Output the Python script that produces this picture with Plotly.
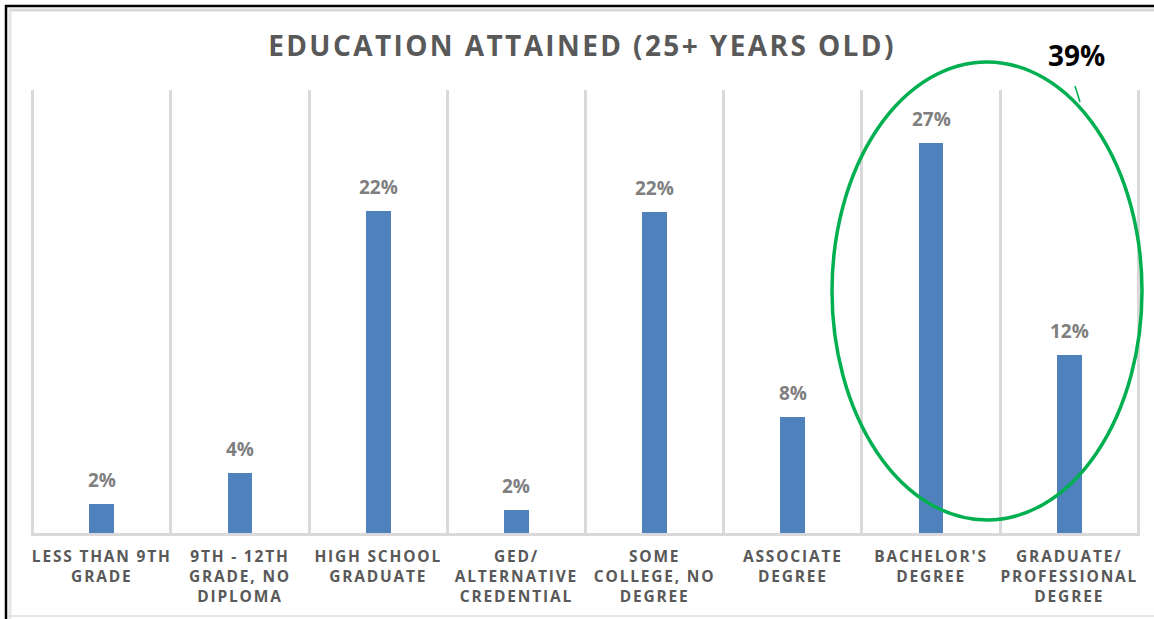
import plotly.graph_objects as go

categories = [
    "LESS THAN 9TH<br>GRADE",
    "9TH - 12TH<br>GRADE, NO<br>DIPLOMA",
    "HIGH SCHOOL<br>GRADUATE",
    "GED/<br>ALTERNATIVE<br>CREDENTIAL",
    "SOME<br>COLLEGE, NO<br>DEGREE",
    "ASSOCIATE<br>DEGREE",
    "BACHELOR'S<br>DEGREE",
    "GRADUATE/<br>PROFESSIONAL<br>DEGREE",
]
values = [2.0, 4.2, 22.4, 1.6, 22.3, 8.1, 27.1, 12.4]
value_labels = ["2%", "4%", "22%", "2%", "22%", "8%", "27%", "12%"]
title_text = "EDUCATION ATTAINED (25+ YEARS OLD)"
callout_text = "39%"

W, H = 1154, 619
L, R, T, B = 31, 14, 90, 86
pw, ph = W - L - R, H - T - B

def px(x):
    return (x - L) / pw

def py(y):
    return (H - B - y) / ph

def spaced(s, ls):
    lines = s.split("<br>")
    return "<br>".join(f'<span style="letter-spacing:{ls}px">{ln}</span>' for ln in lines)

fig = go.Figure()
fig.add_trace(go.Bar(
    x=categories,
    y=values,
    marker=dict(color="#4f81bd", line=dict(width=0)),
    width=0.18,
    hoverinfo="skip",
))

for c, v, lab in zip(categories, values, value_labels):
    fig.add_annotation(x=c, y=v, text=f"<b>{lab}</b>", showarrow=False,
                       xanchor="center", yanchor="bottom", yshift=9,
                       font=dict(family="Open Sans", size=19, color="#7f7f7f"))

fig.update_layout(
    width=W, height=H,
    margin=dict(l=L, r=R, t=T, b=B),
    paper_bgcolor="white",
    plot_bgcolor="white",
    showlegend=False,
    bargap=0,
    title=dict(
        text=f'<b>{spaced(title_text, 2.4)}</b>',
        x=582 / W, xanchor="center",
        y=1 - 46 / H, yanchor="middle",
        font=dict(family="Open Sans", size=28, color="#595959"),
    ),
    xaxis=dict(
        type="category",
        tickmode="array",
        tickvals=categories,
        ticktext=[f"<b>{spaced(c, 1.8)}</b>" for c in categories],
        tickfont=dict(family="Open Sans", size=15.5, color="#595959"),
        tickson="boundaries",
        ticks="",
        ticklabelstandoff=7,
        showgrid=True,
        gridcolor="#d9d9d9",
        gridwidth=3,
        showline=True,
        linecolor="#d9d9d9",
        linewidth=3,
        range=[-0.512, len(categories) - 0.488],
        tickangle=0,
        zeroline=False,
    ),
    yaxis=dict(
        range=[0, 30.8],
        showgrid=False,
        showticklabels=False,
        zeroline=False,
        showline=False,
    ),
)

# Frame lines
fig.add_shape(type="line", xref="paper", yref="paper",
              x0=px(5), x1=px(W), y0=py(6), y1=py(6),
              line=dict(color="black", width=2.5))
fig.add_shape(type="line", xref="paper", yref="paper",
              x0=px(6), x1=px(6), y0=py(5), y1=py(H),
              line=dict(color="black", width=2.5))
fig.add_shape(type="line", xref="paper", yref="paper",
              x0=px(9), x1=px(W), y0=py(10), y1=py(10),
              line=dict(color="#d9d9d9", width=3))
fig.add_shape(type="line", xref="paper", yref="paper",
              x0=px(10), x1=px(10), y0=py(10), y1=py(H),
              line=dict(color="#e6e6e6", width=3))
fig.add_shape(type="line", xref="paper", yref="paper",
              x0=px(8), x1=px(W), y0=py(616), y1=py(616),
              line=dict(color="#e6e6e6", width=2))

# Green ellipse highlight
fig.add_shape(type="circle", xref="paper", yref="paper",
              x0=px(832), x1=px(1142), y0=py(520), y1=py(62),
              line=dict(color="#00b050", width=3.5))
fig.add_shape(type="line", xref="paper", yref="paper",
              x0=px(1075), x1=px(1080), y0=py(86), y1=py(102),
              line=dict(color="#00b050", width=1.5))

fig.add_annotation(xref="paper", yref="paper", x=px(1076), y=py(55),
                   text=f"<b>{callout_text}</b>", showarrow=False,
                   xanchor="center", yanchor="middle",
                   font=dict(family="Open Sans", size=28, color="black"))

fig.write_html("out.html", config={"displayModeBar": False},
               post_script="document.body.style.margin='0';")
